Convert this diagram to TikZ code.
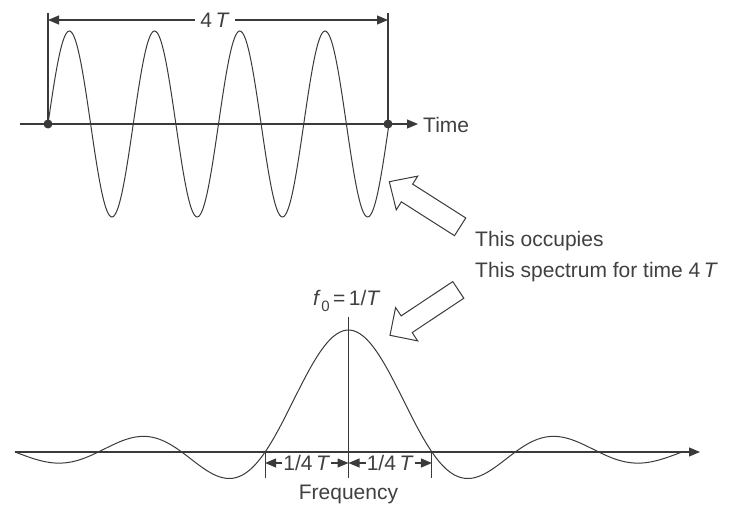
\documentclass[tikz,border=0pt]{standalone}
\usepackage{fontspec}
\setmainfont{Liberation Sans}
\usetikzlibrary{arrows.meta}
\definecolor{ink}{HTML}{3A3A3A}
\definecolor{txt}{HTML}{404040}
\begin{document}
\begin{tikzpicture}[x=1pt,y=-1pt,
  line/.style={draw=ink, line width=1.1pt},
  curve/.style={draw=ink, line width=1pt},
  lbl/.style={font=\fontsize{21}{25}\selectfont, text=txt, inner sep=0pt},
  tri/.style={-{Triangle[length=11pt,width=9pt]}},
  dimarrow/.style={{Triangle[length=11pt,width=9pt]}-{Triangle[length=11pt,width=9pt]}},
  hollow/.style={draw=ink, line width=1pt, fill=white, line join=miter},
  dot/.style={circle, fill=ink, inner sep=0pt, minimum size=9pt}
]
\useasboundingbox (0,0) rectangle (729,511);
% ---------- top: time signal ----------
\coordinate (ta) at (20,124);
\coordinate (tb) at (418,124);
\draw[line, tri] (ta) -- (tb);
\draw[curve] plot[domain=0:4, samples=241, smooth] ({48+85.25*\x},{124-93*sin(360*\x)});
\node[dot] (d0) at (48,124) {};
\node[dot] (d1) at (388,124) {};
\node[lbl, anchor=base west] (time) at (423,132) {Time};
\coordinate (e0) at (48,13);
\coordinate (e1) at (388,13);
\draw[line] (e0) -- (d0.center);
\draw[line] (e1) -- (d1.center);
\coordinate (m0) at (48,20);
\coordinate (m1) at (388,20);
\draw[line, dimarrow] (m0) -- (m1);
\node[lbl, anchor=base, fill=white, inner xsep=5pt, inner ysep=1pt] (fourT) at (215,28) {4\,\textit{T}};
% ---------- hollow arrows ----------
\begin{scope}[shift={(389.3,181.7)}, rotate=-32.5]
  \draw[hollow] (0,0) -- (21,20) -- (21,10.5) -- (84,10.5) -- (84,-10.5) -- (21,-10.5) -- (21,-20) -- cycle;
\end{scope}
\begin{scope}[shift={(390,335.3)}, rotate=33.6]
  \draw[hollow] (0,0) -- (20,20) -- (20,10) -- (82,10) -- (82,-10) -- (20,-10) -- (20,-20) -- cycle;
\end{scope}
\node[lbl, anchor=base west] (occ) at (475,246) {This occupies};
\node[lbl, anchor=base west] (spec) at (475,277) {This spectrum for time 4\,\textit{T}};
% ---------- bottom: spectrum ----------
\coordinate (fa) at (15,452);
\coordinate (fb) at (700,452);
\draw[line, tri] (fa) -- (fb);
\draw[curve] plot[domain=-4:4, samples=200, smooth] ({348.5+83.4*\x},{452-122*sin(180*\x)/(pi*\x)});
\coordinate (c0) at (348.5,317);
\coordinate (c1) at (348.5,478);
\draw[line] (c0) -- (c1);
\coordinate (z0) at (265.1,452);
\coordinate (z0b) at (265.1,478);
\coordinate (z1) at (431.9,452);
\coordinate (z1b) at (431.9,478);
\draw[line] (z0) -- (z0b);
\draw[line] (z1) -- (z1b);
\coordinate (q0) at (265.1,463);
\coordinate (q1) at (348.5,463);
\coordinate (q2) at (431.9,463);
\draw[line, dimarrow] (q0) -- (q1);
\draw[line, dimarrow] (q1) -- (q2);
\node[lbl, fill=white, inner xsep=1pt, inner ysep=1pt] (qa) at (306.8,463) {1/4\,\textit{T}};
\node[lbl, fill=white, inner xsep=1pt, inner ysep=1pt] (qb) at (390.2,463) {1/4\,\textit{T}};
\node[lbl, anchor=base] (freq) at (348.5,499) {Frequency};
\node[lbl, anchor=base west] (f0) at (313,305) {\textit{f}\kern0.5pt\raisebox{-6pt}{\fontsize{15}{16}\selectfont 0}\,=\,1/\textit{T}};
\end{tikzpicture}
\end{document}
